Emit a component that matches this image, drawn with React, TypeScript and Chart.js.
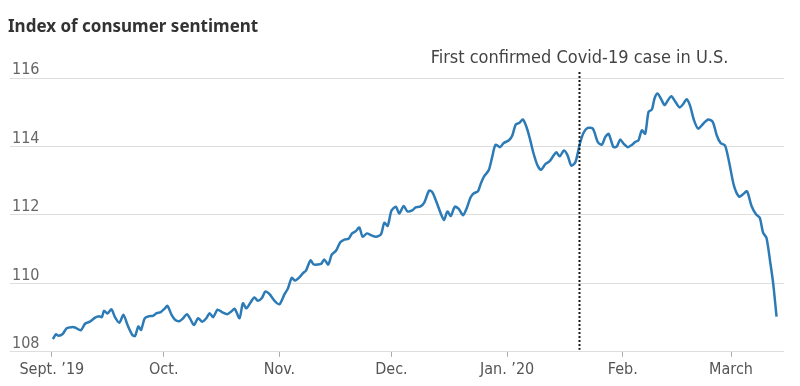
import React, { useEffect, useRef } from "react";
import { Chart, registerables } from "chart.js";

Chart.register(...registerables);

const TITLE = "Index of consumer sentiment";
const EVENT_LABEL = "First confirmed Covid-19 case in U.S.";
// days since Sept. 1, 2019
const EVENT_DAY = 141.2;
const MONTH_TICKS = [0, 30, 61, 91, 122, 153, 182];
const MONTH_LABELS = ["Sept. \u201919", "Oct.", "Nov.", "Dec.", "Jan. \u201920", "Feb.", "March"];
const Y_MIN = 108;
const Y_MAX = 116;
const Y_STEP = 2;

const DAYS = [
  0.3, 1.1, 1.8, 2.9, 4.0, 5.3, 6.2, 7.8, 8.9, 10.2, 11.6, 12.7, 13.4, 14.0, 14.9, 16.0, 16.9, 18.1, 19.2, 20.3,
  21.6, 22.3, 23.2, 23.9, 24.9, 26.0, 27.1, 28.1, 29.2, 30.3, 31.0, 32.1, 33.1, 34.3, 35.2, 36.2, 37.1, 38.1, 39.2, 40.3,
  41.4, 42.3, 43.2, 44.4, 45.6, 47.0, 48.1, 49.0, 50.3, 51.2, 52.1, 53.3, 54.3, 55.2, 56.3, 57.2, 58.3, 59.7, 61.0, 62.3,
  63.3, 64.3, 65.2, 66.4, 67.3, 68.1, 69.3, 70.2, 71.3, 72.2, 73.0, 74.1, 75.0, 76.2, 77.3, 78.4, 79.5, 80.4, 81.5, 82.4,
  83.3, 84.4, 85.5, 86.9, 88.2, 89.1, 90.0, 91.0, 92.2, 93.1, 94.3, 95.3, 96.7, 97.5, 98.7, 99.8, 101.1, 102.0, 103.3, 104.2,
  105.1, 106.0, 106.9, 108.0, 109.1, 110.2, 111.2, 112.2, 113.1, 114.2, 114.9, 115.8, 117.1, 118.0, 118.9, 120.1, 121.1, 122.5, 123.4, 124.3,
  125.3, 126.2, 127.2, 128.1, 129.0, 130.1, 131.1, 132.3, 133.4, 134.5, 135.2, 136.1, 137.2, 138.2, 139.2, 140.3, 141.5, 142.5, 143.6, 145.0,
  146.3, 147.4, 148.3, 149.2, 150.5, 151.4, 152.3, 153.2, 154.3, 155.5, 156.3, 157.2, 158.1, 159.0, 159.9, 160.8, 161.5, 162.3, 163.2, 164.2,
  165.1, 166.0, 167.0, 168.2, 169.2, 170.1, 171.0, 172.1, 173.2, 174.6, 175.9, 177.1, 178.2, 179.2, 180.4, 181.5, 182.8, 184.2, 185.3, 186.3,
  187.5, 188.7, 189.7, 190.6, 191.5, 192.6, 193.3, 194.2,
];

const VALUES = [
  108.37, 108.51, 108.47, 108.52, 108.69, 108.72, 108.71, 108.63, 108.82, 108.88, 109.0, 109.04, 109.01, 109.2, 109.12, 109.24, 109.02, 108.85, 109.08, 108.78,
  108.49, 108.46, 108.74, 108.64, 108.98, 109.04, 109.05, 109.13, 109.16, 109.27, 109.34, 109.08, 108.93, 108.9, 108.98, 109.1, 108.96, 108.78, 108.98, 108.88,
  108.98, 109.13, 109.01, 109.23, 109.16, 109.1, 109.18, 109.26, 108.98, 109.42, 109.27, 109.45, 109.59, 109.49, 109.57, 109.76, 109.69, 109.49, 109.39, 109.67,
  109.86, 110.16, 110.08, 110.18, 110.3, 110.37, 110.67, 110.55, 110.55, 110.57, 110.7, 110.55, 110.84, 110.96, 111.2, 111.28, 111.3, 111.45, 111.53, 111.63,
  111.36, 111.46, 111.41, 111.36, 111.43, 111.77, 111.68, 112.12, 112.24, 112.04, 112.26, 112.1, 112.14, 112.22, 112.24, 112.36, 112.71, 112.66, 112.31, 112.05,
  111.85, 112.1, 111.97, 112.24, 112.17, 111.99, 112.2, 112.51, 112.63, 112.69, 112.9, 113.12, 113.31, 113.69, 114.05, 113.98, 114.1, 114.18, 114.32, 114.64,
  114.69, 114.79, 114.57, 114.23, 113.83, 113.46, 113.32, 113.49, 113.57, 113.74, 113.83, 113.71, 113.88, 113.74, 113.44, 113.54, 114.08, 114.4, 114.54, 114.52,
  114.13, 114.05, 114.27, 114.37, 113.98, 114.0, 114.2, 114.08, 113.98, 114.05, 114.13, 114.18, 114.47, 114.37, 115.01, 115.08, 115.4, 115.55, 115.4, 115.21,
  115.35, 115.47, 115.32, 115.14, 115.24, 115.38, 115.2, 114.76, 114.52, 114.67, 114.79, 114.72, 114.32, 114.1, 114.03, 113.54, 112.85, 112.53, 112.61, 112.69,
  112.26, 112.02, 111.92, 111.48, 111.33, 110.55, 110.0, 109.03,
];

const NARROW = "'Liberation Sans Narrow', 'DejaVu Sans Condensed', 'Roboto Condensed', Roboto, sans-serif";

const overlayPlugin = {
  id: "overlay",
  afterDatasetsDraw(chart: any) {
    const { ctx, scales } = chart;
    const x = scales.x;
    const y = scales.y;
    const px = Math.round(x.getPixelForValue(EVENT_DAY)) + 0.5;
    ctx.save();
    // dotted event line
    ctx.strokeStyle = "#1a1a1a";
    ctx.lineWidth = 2;
    ctx.setLineDash([2, 2]);
    ctx.beginPath();
    ctx.moveTo(px, y.getPixelForValue(Y_MAX) - 6);
    ctx.lineTo(px, y.getPixelForValue(Y_MIN) - 2);
    ctx.stroke();
    ctx.setLineDash([]);
    // event label
    ctx.fillStyle = "#444";
    ctx.font = `18px ${NARROW}`;
    ctx.textAlign = "center";
    ctx.textBaseline = "alphabetic";
    ctx.fillText(EVENT_LABEL, px, 63);
    // title
    ctx.fillStyle = "#333";
    ctx.font = "bold 17px 'Noto Sans', 'Open Sans', sans-serif";
    ctx.textAlign = "left";
    ctx.fillText(TITLE, 8, 32);
    ctx.restore();
  },
};

export default function App() {
  const canvasRef = useRef<HTMLCanvasElement | null>(null);

  useEffect(() => {
    document.body.style.margin = "0";
    const canvas = canvasRef.current;
    if (!canvas) return;
    const chart = new Chart(canvas, {
      type: "line",
      data: {
        datasets: [
          {
            data: DAYS.map((d, i) => ({ x: d, y: VALUES[i] })),
            borderColor: "#2c7bb6",
            borderWidth: 2.5,
            pointRadius: 0,
            tension: 0.25,
            fill: false,
          },
        ],
      },
      options: {
        animation: false,
        responsive: false,
        events: [],
        layout: { padding: { left: 6, right: 16, top: 78, bottom: 4 } },
        plugins: { legend: { display: false }, tooltip: { enabled: false }, title: { display: false } },
        scales: {
          x: {
            type: "linear",
            min: -11.2,
            max: 196.2,
            afterBuildTicks: (scale: any) => {
              scale.ticks = MONTH_TICKS.map((v) => ({ value: v }));
            },
            grid: {
              drawOnChartArea: false,
              drawTicks: true,
              tickLength: 5,
              color: "#aaa",
              lineWidth: 1,
            },
            border: { display: false },
            ticks: {
              autoSkip: false,
              maxRotation: 0,
              padding: 3,
              color: "#555",
              font: { family: NARROW, size: 16 },
              callback: (v: any) => {
                const i = MONTH_TICKS.indexOf(Number(v));
                return i >= 0 ? MONTH_LABELS[i] : "";
              },
            },
          },
          y: {
            min: Y_MIN,
            max: Y_MAX,
            grid: { color: "#dedede", lineWidth: 1, drawTicks: false },
            border: { display: false },
            ticks: {
              stepSize: Y_STEP,
              mirror: true,
              padding: 2,
              labelOffset: -8,
              color: "#666",
              font: { family: NARROW, size: 16 },
            },
          },
        },
      },
      plugins: [overlayPlugin],
    });
    return () => chart.destroy();
  }, []);

  return (
    <div style={{ width: 800, height: 386 }}>
      <canvas ref={canvasRef} width={800} height={386} style={{ display: "block" }} />
    </div>
  );
}
